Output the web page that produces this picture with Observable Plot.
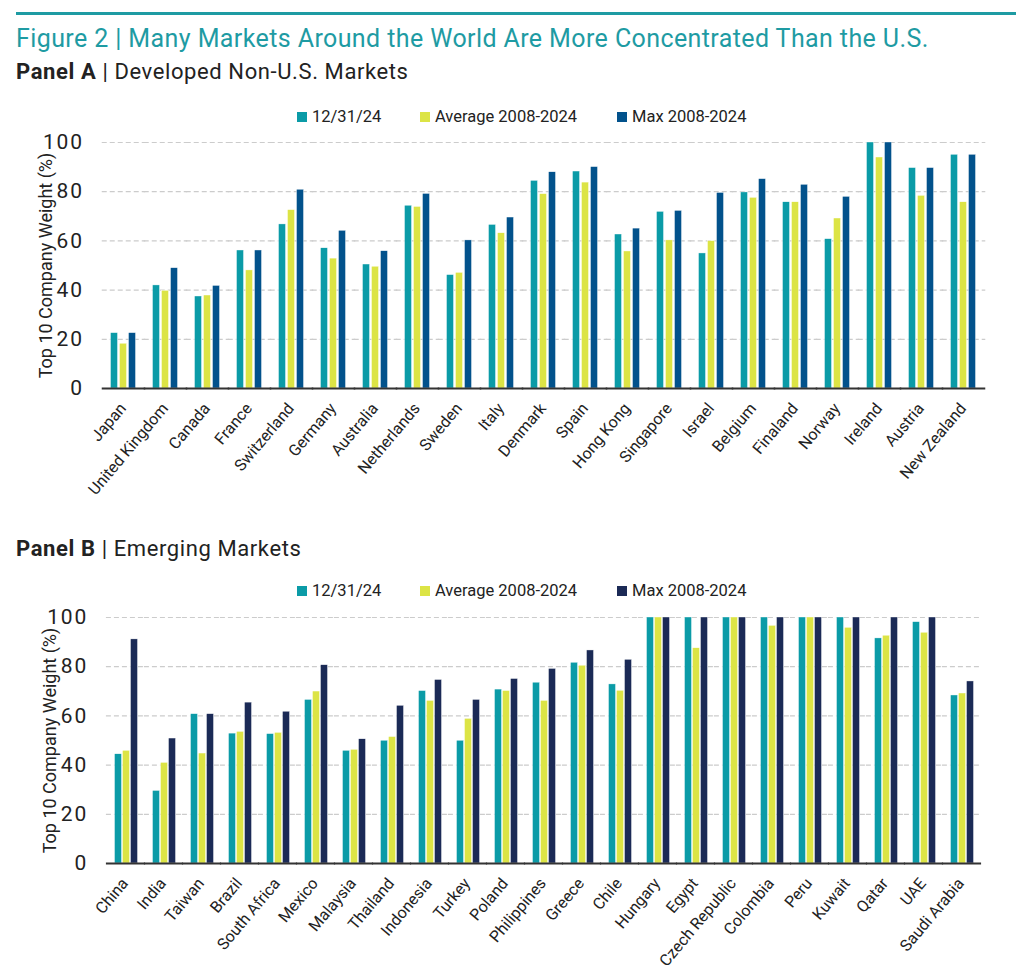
<!DOCTYPE html>
<html>
<head>
<meta charset="utf-8">
<script src="https://cdn.jsdelivr.net/npm/d3@7"></script>
<script src="https://cdn.jsdelivr.net/npm/@observablehq/plot@0.6"></script>
<style>
  html, body { margin: 0; padding: 0; background: #fff; }
  body { width: 1024px; height: 975px; position: relative; overflow: hidden; font-family: Roboto, "Noto Sans", sans-serif; color: #222; }
  .abs { position: absolute; }
  .rule { left: 16px; top: 12px; width: 1000px; height: 3px; background: #1E9BA3; }
  .title { left: 16px; top: 26px; font-size: 25px; line-height: 25px; letter-spacing: 0.4px; color: #1E9BA3; white-space: nowrap; }
  .panel { left: 16px; font-size: 22px; line-height: 22px; letter-spacing: 0.6px; color: #222; white-space: nowrap; }
  .panel b { font-weight: 700; }
  .legend { left: 0; width: 1024px; height: 20px; font-size: 16.5px; line-height: 20px; }
  .legend .item { position: absolute; top: 0; white-space: nowrap; }
  .legend .sw { position: absolute; width: 10px; height: 10px; top: 5px; }
  .chart { left: 0; }
  .chart svg [aria-label="y-axis tick label"] text { letter-spacing: 1.8px; }
</style>
</head>
<body>
<div class="abs rule"></div>
<div class="abs title">Figure 2 | Many Markets Around the World Are More Concentrated Than the U.S.</div>
<div class="abs panel" style="top:61px"><b>Panel A</b> | Developed Non-U.S. Markets</div>
<div class="abs legend" id="legendA" style="top:107px"></div>
<div class="abs chart" id="chartA" style="top:130px"></div>
<div class="abs panel" style="top:538px"><b>Panel B</b> | Emerging Markets</div>
<div class="abs legend" id="legendB" style="top:581px"></div>
<div class="abs chart" id="chartB" style="top:605px"></div>
<script>
// ---- Data ----
const seriesNames = ["12/31/24", "Average 2008-2024", "Max 2008-2024"];
const yTicks = [0, 20, 40, 60, 80, 100];
const yLabel = "Top 10 Company Weight (%)";

const devCountries = ["Japan", "United Kingdom", "Canada", "France", "Switzerland", "Germany", "Australia",
  "Netherlands", "Sweden", "Italy", "Denmark", "Spain", "Hong Kong", "Singapore", "Israel", "Belgium",
  "Finaland", "Norway", "Ireland", "Austria", "New Zealand"];
const devCurrent = [22.5, 41.9, 37.4, 56.1, 66.7, 57.0, 50.4, 74.3, 46.1, 66.5, 84.4, 88.2, 62.6, 71.8, 54.9, 79.7, 75.7, 60.7, 100, 89.6, 95.0];
const devAverage = [18.2, 39.7, 37.8, 48.0, 72.5, 52.8, 49.5, 73.8, 47.0, 63.1, 79.0, 83.7, 55.7, 60.2, 59.9, 77.5, 75.7, 69.1, 93.9, 78.3, 75.7];
const devMax     = [22.5, 48.9, 41.7, 56.1, 80.8, 64.1, 55.8, 79.1, 60.2, 69.5, 87.9, 90.0, 65.0, 72.2, 79.5, 85.1, 82.8, 77.9, 100, 89.6, 95.0];

const emCountries = ["China", "India", "Taiwan", "Brazil", "South Africa", "Mexico", "Malaysia", "Thailand",
  "Indonesia", "Turkey", "Poland", "Philippines", "Greece", "Chile", "Hungary", "Egypt", "Czech Republic",
  "Colombia", "Peru", "Kuwait", "Qatar", "UAE", "Saudi Arabia"];
const emCurrent = [44.4, 29.5, 60.7, 52.8, 52.6, 66.5, 45.8, 49.9, 70.1, 49.9, 70.7, 73.5, 81.6, 72.8, 100, 100, 100, 100, 100, 100, 91.5, 98.1, 68.3];
const emAverage = [45.8, 40.9, 44.7, 53.5, 53.1, 69.9, 46.2, 51.4, 66.1, 58.8, 70.1, 66.1, 80.4, 70.2, 100, 87.5, 100, 96.6, 100, 95.8, 92.6, 93.8, 69.1];
const emMax     = [91.1, 50.8, 60.7, 65.4, 61.7, 80.6, 50.5, 64.1, 74.6, 66.5, 75.0, 79.1, 86.6, 82.8, 100, 100, 100, 100, 100, 100, 100, 100, 74.0];

const colorsA = ["#0B9BA7", "#DCE445", "#02528C"];
const colorsB = ["#0B9BA7", "#DCE445", "#1B2A56"];

// ---- Helpers ----
function tidy(countries, seriesArrays) {
  const out = [];
  countries.forEach((c, i) => {
    seriesNames.forEach((s, j) => out.push({country: c, series: s, value: seriesArrays[j][i]}));
  });
  return out;
}

function legend(el, colors) {
  const pos = [{sw: 297, tx: 312}, {sw: 420, tx: 435}, {sw: 617, tx: 632}];
  seriesNames.forEach((s, i) => {
    const sw = document.createElement("div");
    sw.className = "sw"; sw.style.left = pos[i].sw + "px"; sw.style.background = colors[i];
    const tx = document.createElement("div");
    tx.className = "item"; tx.style.left = pos[i].tx + "px"; tx.textContent = s;
    el.appendChild(sw); el.appendChild(tx);
  });
}

function chart(countries, seriesArrays, colors, height, pad) {
  const data = tidy(countries, seriesArrays);
  const width = 1024, mL = 102.5, mR = 39;
  // fx band step; rules extend across the gap between facets so grid lines read as continuous
  const step = (width - mL - mR) / countries.length;
  const half = step * pad / 2;
  const ext = -half - 0.6;
  return Plot.plot({
    width,
    height,
    marginLeft: mL,
    marginRight: mR,
    marginTop: 12,
    marginBottom: height - 12 - 246,
    style: {fontFamily: "Roboto, sans-serif", color: "#222", background: "#fff"},
    fx: {domain: countries, paddingInner: pad, paddingOuter: pad / 2},
    x: {domain: seriesNames, paddingInner: 0.17, paddingOuter: 0, axis: null},
    y: {domain: [0, 100]},
    color: {domain: seriesNames, range: colors},
    marks: [
      Plot.ruleY(yTicks.filter(d => d > 0), {stroke: "#cccccc", strokeWidth: 1.2, strokeDasharray: "5,3", insetLeft: ext, insetRight: ext}),
      Plot.barY(data, {fx: "country", x: "series", y: "value", fill: "series", stroke: "#fff", strokeWidth: 0.4}),
      Plot.ruleY([0], {stroke: "#333", strokeWidth: 2, insetLeft: ext, insetRight: ext}),
      Plot.axisY({ticks: yTicks, tickSize: 0, tickPadding: half + 19, fontSize: 21, label: null}),
      Plot.text([yLabel], {facet: "super", frameAnchor: "left", textAnchor: "middle", rotate: -90, dx: -64, fontSize: 18, fill: "#222"}),
      Plot.axisFx({anchor: "bottom", tickRotate: -50, tickSize: 0, tickPadding: 17, dx: -1, fontSize: 16, label: null})
    ]
  });
}

legend(document.getElementById("legendA"), colorsA);
legend(document.getElementById("legendB"), colorsB);
document.getElementById("chartA").appendChild(chart(devCountries, [devCurrent, devAverage, devMax], colorsA, 400, 0.365));
document.getElementById("chartB").appendChild(chart(emCountries, [emCurrent, emAverage, emMax], colorsB, 370, 0.39));
</script>
</body>
</html>
